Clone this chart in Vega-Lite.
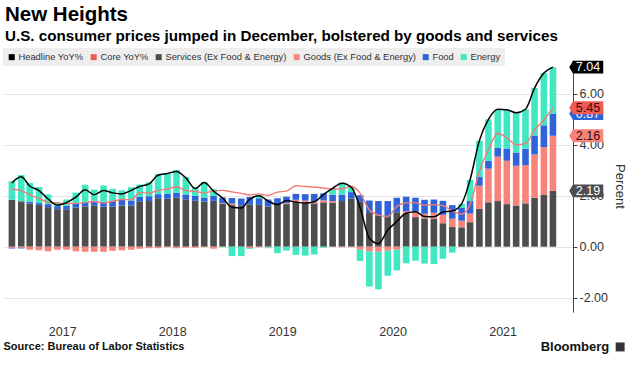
{
  "$schema": "https://vega.github.io/schema/vega-lite/v6.json",
  "width": 570,
  "height": 252,
  "autosize": "none",
  "padding": {"left": 3, "top": 60, "right": 68, "bottom": 65},
  "background": "white",
  "config": {"view": {"stroke": null}, "font": "Liberation Sans"},
  "title": {
    "text": "New Heights",
    "subtitle": "U.S. consumer prices jumped in December, bolstered by goods and services",
    "anchor": "start",
    "frame": "group",
    "font": "Liberation Sans",
    "fontSize": 20.5,
    "fontWeight": "bold",
    "color": "#000000",
    "subtitleFont": "Liberation Sans",
    "subtitleFontSize": 15.2,
    "subtitleFontWeight": "bold",
    "subtitleColor": "#000000",
    "subtitlePadding": 3,
    "offset": 4,
    "dx": 2
  },
  "datasets": {
    "cpi": [
      {"date": "2017-01-15", "Services (Ex Food & Energy)": 1.84, "Goods (Ex Food & Energy)": -0.04, "Food": -0.03, "Energy": 0.73, "Headline YoY%": 2.50, "Core YoY%": 2.26},
      {"date": "2017-02-15", "Services (Ex Food & Energy)": 1.78, "Goods (Ex Food & Energy)": -0.04, "Food": -0.03, "Energy": 1.03, "Headline YoY%": 2.74, "Core YoY%": 2.20},
      {"date": "2017-03-15", "Services (Ex Food & Energy)": 1.69, "Goods (Ex Food & Energy)": -0.12, "Food": 0.07, "Energy": 0.74, "Headline YoY%": 2.38, "Core YoY%": 2.04},
      {"date": "2017-04-15", "Services (Ex Food & Energy)": 1.64, "Goods (Ex Food & Energy)": -0.14, "Food": 0.07, "Energy": 0.63, "Headline YoY%": 2.20, "Core YoY%": 1.89},
      {"date": "2017-05-15", "Services (Ex Food & Energy)": 1.55, "Goods (Ex Food & Energy)": -0.18, "Food": 0.12, "Energy": 0.38, "Headline YoY%": 1.87, "Core YoY%": 1.74},
      {"date": "2017-06-15", "Services (Ex Food & Energy)": 1.47, "Goods (Ex Food & Energy)": -0.12, "Food": 0.12, "Energy": 0.16, "Headline YoY%": 1.63, "Core YoY%": 1.71},
      {"date": "2017-07-15", "Services (Ex Food & Energy)": 1.47, "Goods (Ex Food & Energy)": -0.12, "Food": 0.15, "Energy": 0.23, "Headline YoY%": 1.73, "Core YoY%": 1.70},
      {"date": "2017-08-15", "Services (Ex Food & Energy)": 1.53, "Goods (Ex Food & Energy)": -0.18, "Food": 0.15, "Energy": 0.44, "Headline YoY%": 1.94, "Core YoY%": 1.70},
      {"date": "2017-09-15", "Services (Ex Food & Energy)": 1.58, "Goods (Ex Food & Energy)": -0.20, "Food": 0.16, "Energy": 0.69, "Headline YoY%": 2.23, "Core YoY%": 1.73},
      {"date": "2017-10-15", "Services (Ex Food & Energy)": 1.62, "Goods (Ex Food & Energy)": -0.20, "Food": 0.18, "Energy": 0.44, "Headline YoY%": 2.04, "Core YoY%": 1.77},
      {"date": "2017-11-15", "Services (Ex Food & Energy)": 1.57, "Goods (Ex Food & Energy)": -0.20, "Food": 0.19, "Energy": 0.64, "Headline YoY%": 2.20, "Core YoY%": 1.71},
      {"date": "2017-12-15", "Services (Ex Food & Energy)": 1.58, "Goods (Ex Food & Energy)": -0.16, "Food": 0.22, "Energy": 0.47, "Headline YoY%": 2.11, "Core YoY%": 1.78},
      {"date": "2018-01-15", "Services (Ex Food & Energy)": 1.61, "Goods (Ex Food & Energy)": -0.14, "Food": 0.23, "Energy": 0.37, "Headline YoY%": 2.07, "Core YoY%": 1.85},
      {"date": "2018-02-15", "Services (Ex Food & Energy)": 1.62, "Goods (Ex Food & Energy)": -0.12, "Food": 0.19, "Energy": 0.52, "Headline YoY%": 2.21, "Core YoY%": 1.84},
      {"date": "2018-03-15", "Services (Ex Food & Energy)": 1.78, "Goods (Ex Food & Energy)": -0.08, "Food": 0.18, "Energy": 0.48, "Headline YoY%": 2.36, "Core YoY%": 2.12},
      {"date": "2018-04-15", "Services (Ex Food & Energy)": 1.79, "Goods (Ex Food & Energy)": -0.06, "Food": 0.19, "Energy": 0.54, "Headline YoY%": 2.46, "Core YoY%": 2.10},
      {"date": "2018-05-15", "Services (Ex Food & Energy)": 1.90, "Goods (Ex Food & Energy)": -0.06, "Food": 0.16, "Energy": 0.80, "Headline YoY%": 2.80, "Core YoY%": 2.21},
      {"date": "2018-06-15", "Services (Ex Food & Energy)": 1.88, "Goods (Ex Food & Energy)": -0.02, "Food": 0.19, "Energy": 0.82, "Headline YoY%": 2.87, "Core YoY%": 2.26},
      {"date": "2018-07-15", "Services (Ex Food & Energy)": 1.92, "Goods (Ex Food & Energy)": -0.06, "Food": 0.19, "Energy": 0.90, "Headline YoY%": 2.95, "Core YoY%": 2.35},
      {"date": "2018-08-15", "Services (Ex Food & Energy)": 1.86, "Goods (Ex Food & Energy)": -0.04, "Food": 0.19, "Energy": 0.69, "Headline YoY%": 2.70, "Core YoY%": 2.20},
      {"date": "2018-09-15", "Services (Ex Food & Energy)": 1.80, "Goods (Ex Food & Energy)": -0.04, "Food": 0.19, "Energy": 0.33, "Headline YoY%": 2.28, "Core YoY%": 2.17},
      {"date": "2018-10-15", "Services (Ex Food & Energy)": 1.77, "Goods (Ex Food & Energy)": -0.02, "Food": 0.16, "Energy": 0.61, "Headline YoY%": 2.52, "Core YoY%": 2.11},
      {"date": "2018-11-15", "Services (Ex Food & Energy)": 1.80, "Goods (Ex Food & Energy)": -0.08, "Food": 0.19, "Energy": 0.27, "Headline YoY%": 2.18, "Core YoY%": 2.18},
      {"date": "2018-12-15", "Services (Ex Food & Energy)": 1.69, "Goods (Ex Food & Energy)": 0.02, "Food": 0.22, "Energy": -0.02, "Headline YoY%": 1.91, "Core YoY%": 2.21},
      {"date": "2019-01-15", "Services (Ex Food & Energy)": 1.63, "Goods (Ex Food & Energy)": 0.06, "Food": 0.22, "Energy": -0.36, "Headline YoY%": 1.55, "Core YoY%": 2.15},
      {"date": "2019-02-15", "Services (Ex Food & Energy)": 1.62, "Goods (Ex Food & Energy)": 0.00, "Food": 0.27, "Energy": -0.37, "Headline YoY%": 1.52, "Core YoY%": 2.09},
      {"date": "2019-03-15", "Services (Ex Food & Energy)": 1.66, "Goods (Ex Food & Energy)": -0.06, "Food": 0.29, "Energy": -0.03, "Headline YoY%": 1.86, "Core YoY%": 2.03},
      {"date": "2019-04-15", "Services (Ex Food & Energy)": 1.64, "Goods (Ex Food & Energy)": -0.02, "Food": 0.26, "Energy": 0.12, "Headline YoY%": 2.00, "Core YoY%": 2.07},
      {"date": "2019-05-15", "Services (Ex Food & Energy)": 1.58, "Goods (Ex Food & Energy)": -0.02, "Food": 0.27, "Energy": -0.04, "Headline YoY%": 1.79, "Core YoY%": 2.01},
      {"date": "2019-06-15", "Services (Ex Food & Energy)": 1.64, "Goods (Ex Food & Energy)": 0.00, "Food": 0.26, "Energy": -0.25, "Headline YoY%": 1.65, "Core YoY%": 2.14},
      {"date": "2019-07-15", "Services (Ex Food & Energy)": 1.67, "Goods (Ex Food & Energy)": 0.04, "Food": 0.25, "Energy": -0.15, "Headline YoY%": 1.81, "Core YoY%": 2.18},
      {"date": "2019-08-15", "Services (Ex Food & Energy)": 1.76, "Goods (Ex Food & Energy)": 0.08, "Food": 0.23, "Energy": -0.32, "Headline YoY%": 1.75, "Core YoY%": 2.39},
      {"date": "2019-09-15", "Services (Ex Food & Energy)": 1.73, "Goods (Ex Food & Energy)": 0.08, "Food": 0.25, "Energy": -0.35, "Headline YoY%": 1.71, "Core YoY%": 2.36},
      {"date": "2019-10-15", "Services (Ex Food & Energy)": 1.70, "Goods (Ex Food & Energy)": 0.08, "Food": 0.29, "Energy": -0.31, "Headline YoY%": 1.76, "Core YoY%": 2.34},
      {"date": "2019-11-15", "Services (Ex Food & Energy)": 1.74, "Goods (Ex Food & Energy)": 0.08, "Food": 0.27, "Energy": -0.04, "Headline YoY%": 2.05, "Core YoY%": 2.30},
      {"date": "2019-12-15", "Services (Ex Food & Energy)": 1.73, "Goods (Ex Food & Energy)": 0.06, "Food": 0.25, "Energy": 0.25, "Headline YoY%": 2.29, "Core YoY%": 2.26},
      {"date": "2020-01-15", "Services (Ex Food & Energy)": 1.79, "Goods (Ex Food & Energy)": -0.02, "Food": 0.25, "Energy": 0.47, "Headline YoY%": 2.49, "Core YoY%": 2.27},
      {"date": "2020-02-15", "Services (Ex Food & Energy)": 1.89, "Goods (Ex Food & Energy)": -0.02, "Food": 0.25, "Energy": 0.21, "Headline YoY%": 2.33, "Core YoY%": 2.37},
      {"date": "2020-03-15", "Services (Ex Food & Energy)": 1.76, "Goods (Ex Food & Energy)": -0.12, "Food": 0.26, "Energy": -0.44, "Headline YoY%": 1.54, "Core YoY%": 2.10},
      {"date": "2020-04-15", "Services (Ex Food & Energy)": 1.32, "Goods (Ex Food & Energy)": -0.18, "Food": 0.49, "Energy": -1.38, "Headline YoY%": 0.33, "Core YoY%": 1.44},
      {"date": "2020-05-15", "Services (Ex Food & Energy)": 1.23, "Goods (Ex Food & Energy)": -0.20, "Food": 0.56, "Energy": -1.47, "Headline YoY%": 0.12, "Core YoY%": 1.24},
      {"date": "2020-06-15", "Services (Ex Food & Energy)": 1.16, "Goods (Ex Food & Energy)": -0.16, "Food": 0.63, "Energy": -0.98, "Headline YoY%": 0.65, "Core YoY%": 1.19},
      {"date": "2020-07-15", "Services (Ex Food & Energy)": 1.35, "Goods (Ex Food & Energy)": -0.12, "Food": 0.57, "Energy": -0.81, "Headline YoY%": 0.99, "Core YoY%": 1.58},
      {"date": "2020-08-15", "Services (Ex Food & Energy)": 1.31, "Goods (Ex Food & Energy)": 0.08, "Food": 0.57, "Energy": -0.65, "Headline YoY%": 1.31, "Core YoY%": 1.72},
      {"date": "2020-09-15", "Services (Ex Food & Energy)": 1.16, "Goods (Ex Food & Energy)": 0.21, "Food": 0.55, "Energy": -0.55, "Headline YoY%": 1.37, "Core YoY%": 1.73},
      {"date": "2020-10-15", "Services (Ex Food & Energy)": 1.11, "Goods (Ex Food & Energy)": 0.18, "Food": 0.55, "Energy": -0.66, "Headline YoY%": 1.18, "Core YoY%": 1.63},
      {"date": "2020-11-15", "Services (Ex Food & Energy)": 1.10, "Goods (Ex Food & Energy)": 0.23, "Food": 0.52, "Energy": -0.68, "Headline YoY%": 1.17, "Core YoY%": 1.65},
      {"date": "2020-12-15", "Services (Ex Food & Energy)": 0.92, "Goods (Ex Food & Energy)": 0.33, "Food": 0.55, "Energy": -0.47, "Headline YoY%": 1.36, "Core YoY%": 1.61},
      {"date": "2021-01-15", "Services (Ex Food & Energy)": 0.77, "Goods (Ex Food & Energy)": 0.33, "Food": 0.53, "Energy": -0.23, "Headline YoY%": 1.40, "Core YoY%": 1.40},
      {"date": "2021-02-15", "Services (Ex Food & Energy)": 0.76, "Goods (Ex Food & Energy)": 0.26, "Food": 0.50, "Energy": 0.16, "Headline YoY%": 1.68, "Core YoY%": 1.28},
      {"date": "2021-03-15", "Services (Ex Food & Energy)": 0.96, "Goods (Ex Food & Energy)": 0.34, "Food": 0.49, "Energy": 0.83, "Headline YoY%": 2.62, "Core YoY%": 1.65},
      {"date": "2021-04-15", "Services (Ex Food & Energy)": 1.49, "Goods (Ex Food & Energy)": 0.90, "Food": 0.34, "Energy": 1.43, "Headline YoY%": 4.16, "Core YoY%": 2.96},
      {"date": "2021-05-15", "Services (Ex Food & Energy)": 1.74, "Goods (Ex Food & Energy)": 1.32, "Food": 0.31, "Energy": 1.62, "Headline YoY%": 4.99, "Core YoY%": 3.80},
      {"date": "2021-06-15", "Services (Ex Food & Energy)": 1.79, "Goods (Ex Food & Energy)": 1.74, "Food": 0.34, "Energy": 1.52, "Headline YoY%": 5.39, "Core YoY%": 4.45},
      {"date": "2021-07-15", "Services (Ex Food & Energy)": 1.67, "Goods (Ex Food & Energy)": 1.70, "Food": 0.48, "Energy": 1.52, "Headline YoY%": 5.37, "Core YoY%": 4.27},
      {"date": "2021-08-15", "Services (Ex Food & Energy)": 1.62, "Goods (Ex Food & Energy)": 1.55, "Food": 0.52, "Energy": 1.56, "Headline YoY%": 5.25, "Core YoY%": 4.00},
      {"date": "2021-09-15", "Services (Ex Food & Energy)": 1.70, "Goods (Ex Food & Energy)": 1.50, "Food": 0.64, "Energy": 1.55, "Headline YoY%": 5.39, "Core YoY%": 4.04},
      {"date": "2021-10-15", "Services (Ex Food & Energy)": 1.92, "Goods (Ex Food & Energy)": 1.70, "Food": 0.74, "Energy": 1.86, "Headline YoY%": 6.22, "Core YoY%": 4.58},
      {"date": "2021-11-15", "Services (Ex Food & Energy)": 2.03, "Goods (Ex Food & Energy)": 1.88, "Food": 0.85, "Energy": 2.05, "Headline YoY%": 6.81, "Core YoY%": 4.96},
      {"date": "2021-12-15", "Services (Ex Food & Energy)": 2.19, "Goods (Ex Food & Energy)": 2.16, "Food": 0.87, "Energy": 1.82, "Headline YoY%": 7.04, "Core YoY%": 5.45}
    ],
    "tags": [
      {"date": "2021-12-15", "name": "Food", "value": 0.87, "pos": 5.22},
      {"date": "2021-12-15", "name": "Goods", "value": 2.16, "pos": 4.35},
      {"date": "2021-12-15", "name": "Services", "value": 2.19, "pos": 2.19},
      {"date": "2021-12-15", "name": "Core", "value": 5.45, "pos": 5.45},
      {"date": "2021-12-15", "name": "Headline", "value": 7.04, "pos": 7.04}
    ]
  },
  "layer": [
    {
      "data": {"name": "cpi"},
      "transform": [
        {"fold": ["Services (Ex Food & Energy)", "Goods (Ex Food & Energy)", "Food", "Energy"], "as": ["component", "value"]}
      ],
      "mark": {"type": "bar", "width": 6.6},
      "encoding": {
        "x": {
          "field": "date",
          "type": "temporal",
          "title": "Source: Bureau of Labor Statistics",
          "scale": {"domain": [{"year": 2017, "month": 1, "date": 2}, {"year": 2022, "month": 2, "date": 3}]},
          "axis": {
            "values": [
              {"year": 2017, "month": 7, "date": 1},
              {"year": 2018, "month": 7, "date": 1},
              {"year": 2019, "month": 7, "date": 1},
              {"year": 2020, "month": 7, "date": 1},
              {"year": 2021, "month": 7, "date": 1}
            ],
            "format": "%Y",
            "domain": false,
            "ticks": false,
            "grid": false,
            "labelFont": "Liberation Sans",
            "labelFontSize": 12.5,
            "labelColor": "#333333",
            "labelPadding": 13,
            "labelFlush": false,
            "titleAnchor": "start",
            "titleAlign": "left",
            "titleFont": "Liberation Sans",
            "titleFontSize": 11,
            "titleFontWeight": "bold",
            "titleColor": "#111111",
            "titlePadding": 3
          }
        },
        "y": {
          "field": "value",
          "type": "quantitative",
          "stack": "zero",
          "title": "Percent",
          "scale": {"domain": [-2.56, 7.32], "nice": false, "zero": false},
          "axis": {
            "orient": "right",
            "values": [-2, -1, 0, 1, 2, 3, 4, 5, 6],
            "labelExpr": "datum.value % 2 === 0 ? replace(format(datum.value, '.2f'), '\u2212', '-') : ''",
            "grid": true,
            "gridColor": "#e4e4e4",
            "gridOpacity": {"condition": {"test": "datum.value % 2 === 0", "value": 1}, "value": 0},
            "domainColor": "#444444",
            "tickColor": "#444444",
            "tickSize": 4,
            "labelFont": "Liberation Sans",
            "labelFontSize": 12.5,
            "labelColor": "#333333",
            "labelPadding": 2,
            "labelBound": false,
            "titleFont": "Liberation Sans",
            "titleFontSize": 13,
            "titleFontWeight": "normal",
            "titleColor": "#333333",
            "titlePadding": 5
          }
        },
        "color": {
          "field": "component",
          "type": "nominal",
          "scale": {
            "domain": ["Headline YoY%", "Core YoY%", "Services (Ex Food & Energy)", "Goods (Ex Food & Energy)", "Food", "Energy"],
            "range": ["#000000", "#f05a55", "#4d4d4d", "#f8837b", "#2f63d9", "#3fe8c2"]
          },
          "legend": {
            "orient": "none",
            "legendX": 0,
            "legendY": -12,
            "direction": "horizontal",
            "columns": 6,
            "title": null,
            "symbolType": "square",
            "symbolSize": 36,
            "symbolStrokeWidth": 0,
            "labelFont": "Liberation Sans",
            "labelFontSize": 9.4,
            "labelColor": "#333333",
            "labelOffset": 2,
            "columnPadding": 5,
            "fillColor": "#eeeeee",
            "padding": 4
          }
        },
        "order": {"field": "component", "sort": "descending"}
      }
    },
    {
      "data": {"name": "cpi"},
      "mark": {"type": "line", "color": "#f07a74", "strokeWidth": 1.4, "interpolate": "monotone"},
      "encoding": {
        "x": {"field": "date", "type": "temporal", "title": "Source: Bureau of Labor Statistics"},
        "y": {"field": "Core YoY%", "type": "quantitative", "title": "Percent"}
      }
    },
    {
      "data": {"name": "cpi"},
      "mark": {"type": "line", "color": "#000000", "strokeWidth": 1.5, "interpolate": "monotone"},
      "encoding": {
        "x": {"field": "date", "type": "temporal", "title": "Source: Bureau of Labor Statistics"},
        "y": {"field": "Headline YoY%", "type": "quantitative", "title": "Percent"}
      }
    },
    {
      "data": {"name": "tags"},
      "transform": [{"filter": "datum.name === 'Food'"}],
      "mark": {"type": "point", "shape": "M-1,0L-0.78,-0.38L1,-0.38L1,0.38L-0.78,0.38Z", "size": 1156, "filled": true, "opacity": 1, "strokeWidth": 0, "xOffset": 33.3},
      "encoding": {
        "x": {"field": "date", "type": "temporal", "title": "Source: Bureau of Labor Statistics"},
        "y": {"field": "pos", "type": "quantitative", "title": "Percent"},
        "fill": {
          "field": "name",
          "type": "nominal",
          "scale": {"domain": ["Food", "Goods", "Services", "Core", "Headline"], "range": ["#2f63d9", "#f8837b", "#4d4d4d", "#f05a55", "#000000"]},
          "legend": null
        }
      }
    },
    {
      "data": {"name": "tags"},
      "transform": [{"filter": "datum.name === 'Food'"}],
      "mark": {"type": "text", "xOffset": 35, "font": "Liberation Sans", "fontSize": 12.5, "color": "#ffffff"},
      "encoding": {
        "x": {"field": "date", "type": "temporal", "title": "Source: Bureau of Labor Statistics"},
        "y": {"field": "pos", "type": "quantitative", "title": "Percent"},
        "text": {"field": "value", "type": "quantitative", "format": ".2f"}
      }
    },
    {
      "data": {"name": "tags"},
      "transform": [{"filter": "datum.name !== 'Food'"}],
      "mark": {"type": "point", "shape": "M-1,0L-0.78,-0.38L1,-0.38L1,0.38L-0.78,0.38Z", "size": 1156, "filled": true, "opacity": 1, "strokeWidth": 0, "xOffset": 33.3},
      "encoding": {
        "x": {"field": "date", "type": "temporal", "title": "Source: Bureau of Labor Statistics"},
        "y": {"field": "pos", "type": "quantitative", "title": "Percent"},
        "fill": {"field": "name", "type": "nominal", "legend": null}
      }
    },
    {
      "data": {"name": "tags"},
      "transform": [{"filter": "datum.name === 'Headline' || datum.name === 'Services'"}],
      "mark": {"type": "text", "xOffset": 35, "font": "Liberation Sans", "fontSize": 12.5, "color": "#ffffff"},
      "encoding": {
        "x": {"field": "date", "type": "temporal", "title": "Source: Bureau of Labor Statistics"},
        "y": {"field": "pos", "type": "quantitative", "title": "Percent"},
        "text": {"field": "value", "type": "quantitative", "format": ".2f"}
      }
    },
    {
      "data": {"name": "tags"},
      "transform": [{"filter": "datum.name === 'Core' || datum.name === 'Goods'"}],
      "mark": {"type": "text", "xOffset": 35, "font": "Liberation Sans", "fontSize": 12.5, "color": "#3a0a0a"},
      "encoding": {
        "x": {"field": "date", "type": "temporal", "title": "Source: Bureau of Labor Statistics"},
        "y": {"field": "pos", "type": "quantitative", "title": "Percent"},
        "text": {"field": "value", "type": "quantitative", "format": ".2f"}
      }
    },
    {
      "data": {"values": [{"label": "Bloomberg"}]},
      "mark": {"type": "text", "align": "right", "font": "Liberation Sans", "fontSize": 13, "fontWeight": "bold", "color": "#111111"},
      "encoding": {
        "x": {"datum": {"year": 2022, "month": 6, "date": 20}, "type": "temporal", "title": "Source: Bureau of Labor Statistics"},
        "y": {"datum": -3.93, "type": "quantitative", "title": "Percent"},
        "text": {"field": "label", "type": "nominal"}
      }
    },
    {
      "data": {"values": [{"label": "logo"}]},
      "mark": {"type": "square", "size": 80, "filled": true, "opacity": 1, "color": "#333333"},
      "encoding": {
        "x": {"datum": {"year": 2022, "month": 7, "date": 26}, "type": "temporal", "title": "Source: Bureau of Labor Statistics"},
        "y": {"datum": -3.93, "type": "quantitative", "title": "Percent"}
      }
    }
  ]
}
